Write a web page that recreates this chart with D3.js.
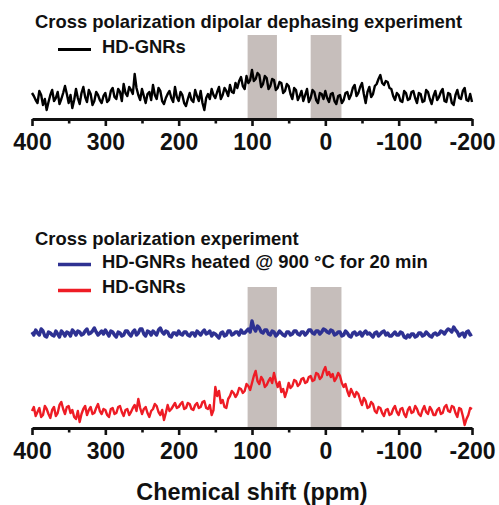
<!DOCTYPE html>
<html>
<head>
<meta charset="utf-8">
<script src="https://cdn.jsdelivr.net/npm/d3@7"></script>
<style>
  html, body { margin: 0; padding: 0; background: #fff; }
  svg { display: block; font-family: "Liberation Sans", Arial, sans-serif; font-weight: bold; }
</style>
</head>
<body>
<svg id="chart" width="499" height="505"></svg>
<script>
// ---- data ----
const ppmStart = 400, ppmEnd = -200, ppmStep = 2.5;
const majorTicks = [400, 300, 200, 100, 0, -100, -200];
const minorTicks = [350, 250, 150, 50, -50, -150];
const shadedBands = [[106, 66], [20, -22]];

const titleTop = "Cross polarization dipolar dephasing experiment";
const titleBottom = "Cross polarization experiment";
const seriesNames = ["HD-GNRs", "HD-GNRs heated @ 900 °C for 20 min", "HD-GNRs"];
const axisTitle = "Chemical shift (ppm)";

// dipolar dephasing, HD-GNRs (400 -> -200 ppm, 2.5 ppm steps)
const dephasingHD = [
  4,1,-3,-6,6,2,-8,-2,-13,-5,2,7,-4,-1,5,-7,-2,4,11,3,
  -6,2,-11,-3,8,-1,-7,4,10,0,-5,7,3,-8,-4,5,2,-3,-6,1,
  4,-5,-3,6,9,0,-2,8,5,-4,13,4,1,10,7,3,23,9,2,-3,
  8,1,-6,3,5,-3,12,2,-2,9,6,-4,-7,-1,3,6,-1,-5,10,0,
  -4,5,2,-6,-9,-2,4,-3,-5,7,1,-4,6,-6,-13,-1,3,-2,8,2,
  -1,5,10,-2,2,9,6,1,12,5,4,14,9,16,20,11,8,21,14,17,
  27,16,18,24,22,10,13,21,19,8,11,18,17,7,9,15,14,4,6,13,
  11,3,-2,9,7,-3,1,6,-4,2,8,-5,-1,7,5,-3,-6,4,3,-2,
  6,-1,-5,3,4,-4,-7,1,2,-6,-3,4,5,-2,2,9,12,1,4,10,
  14,3,-6,5,10,0,3,11,13,18,22,14,12,16,15,9,8,1,-3,4,
  2,-4,-5,6,4,-3,-2,5,6,-1,-6,4,3,-5,-4,7,5,-2,-7,1,
  6,-3,0,5,8,-4,-5,4,3,-6,-8,2,7,-1,-2,6,9,-3,-4,3,
  -5];

// cross polarization, HD-GNRs heated @ 900 °C
const cpHeated = [
  2,-1,4,1,-1,5,3,-2,-3,2,1,-1,-2,3,0,-3,3,1,-2,2,
  1,-2,4,2,-1,3,2,-1,0,3,5,0,1,3,6,2,-1,1,3,0,
  4,1,-2,3,2,-1,-3,2,1,-2,-1,3,3,0,-2,2,4,-1,1,5,
  5,0,-2,3,2,-1,3,1,-1,4,6,2,0,3,2,-2,-3,1,1,-1,
  3,0,-1,2,2,-1,-2,1,1,-2,3,1,-1,2,4,0,1,3,-2,1,
  0,-2,-4,1,2,-2,-1,3,3,-1,0,2,2,-1,4,1,1,3,5,2,
  13,6,3,8,6,2,1,4,4,0,-1,3,2,-2,0,3,1,-1,-2,2,
  2,-1,0,3,3,0,-1,2,2,-1,1,4,4,1,0,3,3,0,2,5,
  4,2,1,4,3,-1,0,2,2,-2,-1,3,1,-2,-3,1,2,-1,0,2,
  -2,1,3,0,1,-1,-3,1,2,-2,0,2,3,-1,1,-2,-2,0,2,-1,
  -1,2,1,-3,-4,-1,-3,0,0,-3,-2,1,1,-2,-1,2,0,-2,-3,0,
  1,-1,0,3,2,0,3,5,4,2,7,4,2,-2,0,1,-3,2,3,-1,
  0];

// cross polarization, HD-GNRs
const cpHD = [
  0,4,-5,-1,3,-6,-4,5,2,-3,-7,1,4,-5,-2,6,9,2,-3,4,
  5,-2,1,-6,-8,0,-11,-3,2,5,-4,1,4,-3,-2,3,7,0,-3,2,
  1,-4,-6,2,3,-3,-2,4,5,-1,-5,1,2,-4,-1,3,6,0,12,3,
  -3,2,4,-2,-6,0,2,7,5,-1,-4,1,-9,-2,6,0,2,5,8,3,
  4,7,9,2,3,8,7,2,1,6,8,3,4,9,10,3,2,6,-4,1,
  24,15,20,8,11,4,3,12,15,20,18,14,17,23,22,18,20,27,25,21,
  28,35,40,30,27,34,31,24,26,30,33,28,38,30,24,29,19,22,14,20,
  28,23,25,31,30,25,27,32,33,28,29,34,35,30,31,38,37,32,34,40,
  44,36,39,34,37,30,33,38,35,28,24,27,20,15,22,18,14,19,17,11,
  6,13,10,3,4,9,7,0,-2,4,3,-2,-5,1,2,-4,-3,2,5,-1,
  -4,2,3,-3,-6,1,4,-2,-1,5,2,-3,-5,1,5,-1,-3,4,1,-4,
  -4,1,3,-3,-2,4,6,0,-1,5,4,-2,-6,3,2,-5,-14,-8,-4,3,
  2];

const ppm = d3.range(ppmStart, ppmEnd - 0.001, -ppmStep);

// ---- layout ----
const svg = d3.select("#chart");
const x = d3.scaleLinear().domain([400, -200]).range([32, 472]);
const yTop = d3.scaleLinear().domain([-22, 78]).range([119, 19]);
const yBot = d3.scaleLinear().domain([0, 100]).range([428, 328]);
const offsetHeated = 94, offsetHD = 17;
const font = "'Liberation Sans', Arial, sans-serif";

function drawBands(top, bottom) {
  svg.append("g").selectAll("rect").data(shadedBands).join("rect")
    .attr("x", d => x(d[0]))
    .attr("width", d => x(d[1]) - x(d[0]))
    .attr("y", top)
    .attr("height", bottom - top)
    .attr("fill", "#c6bebb");
}

function drawAxis(yPos) {
  const g = svg.append("g").attr("transform", `translate(0,${yPos})`);
  const major = d3.axisBottom(x).tickValues(majorTicks).tickSize(7).tickSizeOuter(0).tickPadding(8)
    .tickFormat(d => String(d));
  g.call(major);
  g.select(".domain").attr("stroke", "#111").attr("stroke-width", 3);
  g.selectAll(".tick line").attr("stroke", "#111").attr("stroke-width", 2.6);
  g.selectAll(".tick text").attr("font-size", 23).attr("font-weight", "bold")
    .attr("font-family", font).attr("fill", "#111");
  const gm = svg.append("g").attr("transform", `translate(0,${yPos})`);
  gm.call(d3.axisBottom(x).tickValues(minorTicks).tickSize(4.5).tickFormat(""));
  gm.select(".domain").remove();
  gm.selectAll(".tick line").attr("stroke", "#111").attr("stroke-width", 2.6);
}

function drawLine(values, yFn, color, width) {
  const line = d3.line().x((d, i) => x(ppm[i])).y(d => yFn(d));
  svg.append("path").datum(values)
    .attr("d", line)
    .attr("fill", "none")
    .attr("stroke", color)
    .attr("stroke-width", width)
    .attr("stroke-linejoin", "round");
}

function legend(yl, color, w, label, yText) {
  svg.append("line").attr("x1", 58).attr("x2", 91).attr("y1", yl).attr("y2", yl)
    .attr("stroke", color).attr("stroke-width", w);
  svg.append("text").attr("x", 102).attr("y", yText).attr("font-size", 18.4)
    .attr("fill", "#111").text(label);
}

// top panel
drawBands(35, 119);
drawLine(dephasingHD, d => yTop(d), "#000", 2.4);
drawAxis(119);
svg.append("text").attr("x", 35).attr("y", 28).attr("font-size", 18.4).attr("fill", "#111").text(titleTop);
legend(49.5, "#000", 3, seriesNames[0], 53);

// bottom panel
drawBands(287, 428);
drawLine(cpHeated, d => yBot(d + offsetHeated), "#2e3192", 3.4);
drawLine(cpHD, d => yBot(d + offsetHD), "#ee1c25", 2.4);
drawAxis(428);
svg.append("text").attr("x", 35).attr("y", 245).attr("font-size", 18.4).attr("fill", "#111").text(titleBottom);
legend(264.5, "#2e3192", 3.5, seriesNames[1], 268);
legend(290.5, "#ee1c25", 3.5, seriesNames[2], 292.5);

svg.append("text").attr("x", 252).attr("y", 500).attr("text-anchor", "middle")
  .attr("font-size", 23.4).attr("fill", "#111").text(axisTitle);
</script>
</body>
</html>
